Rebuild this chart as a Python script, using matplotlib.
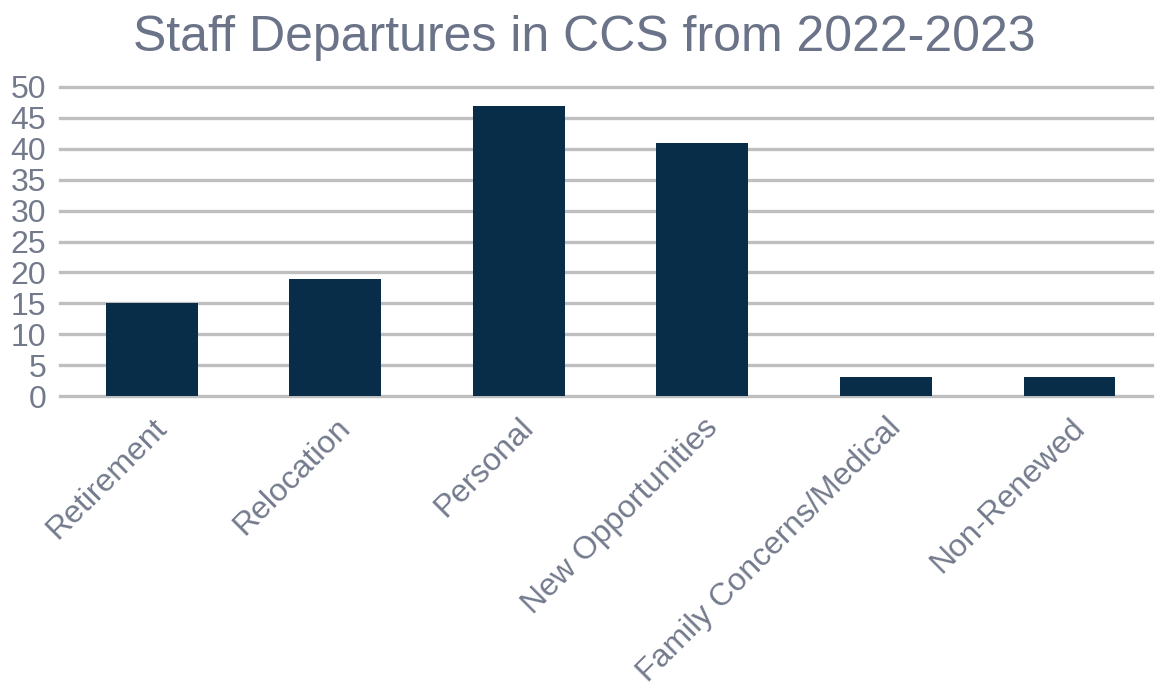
import matplotlib.pyplot as plt

# Chart data
categories = ['Retirement', 'Relocation', 'Personal', 'New Opportunities',
              'Family Concerns/Medical', 'Non-Renewed']
departures = [15, 19, 47, 41, 3, 3]
y_ticks = list(range(0, 51, 5))

BAR_COLOR = '#072d49'
TEXT_COLOR = '#737a8c'
GRID_COLOR = '#bfbfbf'


def main():
    plt.rcParams['font.family'] = ['Liberation Sans', 'DejaVu Sans']

    fig = plt.figure(figsize=(11.57, 6.89), dpi=100)
    ax = fig.add_axes([60 / 1157, 1 - 396 / 689, 1092 / 1157, (396 - 87) / 689])

    x = range(len(categories))
    ax.bar(x, departures, width=0.5, color=BAR_COLOR, zorder=3)

    # Axes and grid
    ax.set_xlim(-0.5, 5.45)
    ax.set_ylim(0, 50)
    ax.set_yticks(y_ticks)
    ax.yaxis.grid(True, color=GRID_COLOR, linewidth=2.4, zorder=0)
    for line in ax.get_ygridlines():
        line.set_clip_on(False)
    ax.set_axisbelow(True)
    for side in ['top', 'right', 'left', 'bottom']:
        ax.spines[side].set_visible(False)
    ax.tick_params(axis='both', length=0, labelsize=23, colors=TEXT_COLOR)
    ax.tick_params(axis='y', pad=10)
    ax.tick_params(axis='x', pad=12)

    ax.set_xticks(list(x))
    ax.set_xticklabels(categories, rotation=45, ha='right',
                       rotation_mode='anchor')

    # Title
    fig.text(0.505, 0.978, 'Staff Departures in CCS from 2022-2023',
             ha='center', va='top', fontsize=36, color='#6b7388')

    fig.savefig('out.png', dpi=100)


if __name__ == '__main__':
    main()
